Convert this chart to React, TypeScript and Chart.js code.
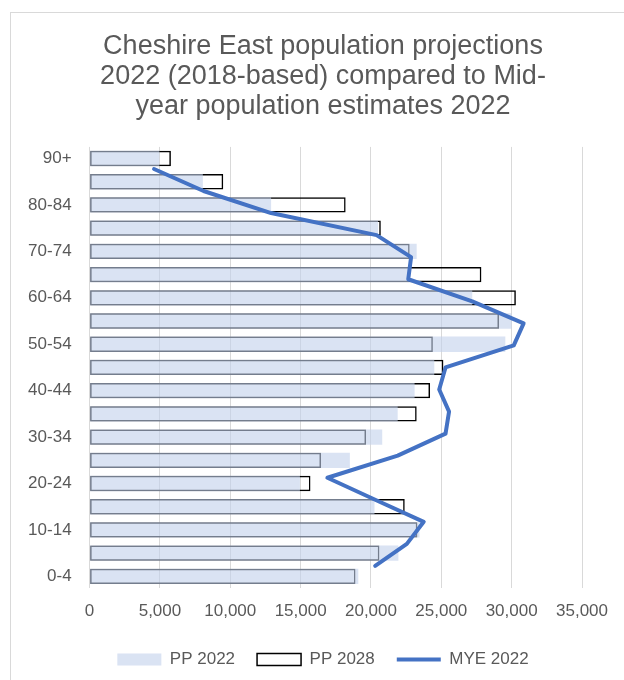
import React, { useEffect, useRef } from 'react';
import { Chart, registerables } from 'chart.js';

Chart.register(...registerables);

const categories = ['0-4', '5-9', '10-14', '15-19', '20-24', '25-29', '30-34', '35-39', '40-44', '45-49', '50-54', '55-59', '60-64', '65-69', '70-74', '75-79', '80-84', '85-89', '90+'];
const pp2022 = [19100, 21950, 23450, 20250, 14950, 18500, 20800, 21900, 23100, 24500, 29550, 30000, 27200, 22700, 23250, 20500, 12900, 8050, 4960];
const pp2028 = [18900, 20600, 23300, 22400, 15700, 16450, 19650, 23250, 24200, 25150, 24400, 29100, 30300, 27850, 22750, 20700, 18200, 9500, 5780];
const mye2022 = [20300, 22550, 23750, 20300, 16900, 21900, 25300, 25550, 24850, 25300, 30150, 30850, 27200, 22650, 22850, 20400, 12900, 8100, 4580];
const xTickValues = [0, 5000, 10000, 15000, 20000, 25000, 30000, 35000];
const titleLines = ['Cheshire East population projections', '2022 (2018-based) compared to Mid-', 'year population estimates 2022'];

const FONT = '"Liberation Sans", Arial, sans-serif';
const TEXT = '#595959';

export default function App() {
  const ref = useRef<HTMLCanvasElement>(null);

  useEffect(() => {
    const chart = new Chart(ref.current as HTMLCanvasElement, {
      type: 'bar',
      data: {
        labels: categories,
        datasets: [
          {
            label: 'PP 2022',
            data: pp2022,
            backgroundColor: 'rgba(193,208,235,0.6)',
            borderWidth: 0,
            grouped: false,
            order: 2,
            xAxisID: 'x',
            yAxisID: 'y',
            barPercentage: 0.66,
            categoryPercentage: 1,
            pointStyle: 'rect',
          } as any,
          {
            label: 'PP 2028',
            data: pp2028,
            backgroundColor: 'rgba(255,255,255,0)',
            borderColor: '#000000',
            borderWidth: 1.5,
            borderSkipped: false,
            grouped: false,
            order: 3,
            xAxisID: 'x',
            yAxisID: 'y',
            barPercentage: 0.66,
            categoryPercentage: 1,
            pointStyle: 'rect',
          } as any,
          {
            type: 'line',
            label: 'MYE 2022',
            data: mye2022.map((v, i) => ({ x: v, y: i + 1 })),
            indexAxis: 'x',
            xAxisID: 'x',
            yAxisID: 'y2',
            borderColor: '#4472C4',
            backgroundColor: '#4472C4',
            borderWidth: 4,
            pointRadius: 0,
            pointHoverRadius: 0,
            pointStyle: 'line',
            pointBorderColor: '#4472C4',
            pointBorderWidth: 4,
            fill: false,
            tension: 0,
            order: 1,
            borderJoinStyle: 'round',
            borderCapStyle: 'round',
          } as any,
        ],
      },
      options: {
        indexAxis: 'y',
        animation: false,
        responsive: false,
        layout: { padding: { left: 0, right: 0, top: 0, bottom: 15 } },
        scales: {
          x: {
            type: 'linear',
            position: 'bottom',
            min: 0,
            max: 35000,
            afterBuildTicks: (scale: any) => {
              scale.ticks = xTickValues.map((v) => ({ value: v }));
            },
            afterFit: (scale: any) => {
              scale.height = 41;
            },
            ticks: {
              color: TEXT,
              font: { family: FONT, size: 17 },
              padding: 13,
              callback: (v: any) => Number(v).toLocaleString('en-US'),
            },
            grid: { color: '#d9d9d9', lineWidth: 1, drawTicks: false },
            border: { display: false },
          },
          y: {
            type: 'category',
            position: 'left',
            reverse: true,
            afterFit: (scale: any) => {
              scale.width = 78.6;
            },
            ticks: {
              color: TEXT,
              font: { family: FONT, size: 17 },
              padding: 18,
              autoSkip: false,
              callback: (_v: any, i: number) => (i % 2 === 0 ? categories[i] : ''),
            },
            grid: { display: false, drawTicks: false },
            border: { display: false },
          },
          y2: {
            type: 'linear',
            axis: 'y',
            position: 'right',
            display: true,
            offset: false,
            min: 0,
            max: 20,
            afterFit: (scale: any) => {
              scale.width = 53;
            },
            ticks: { display: false },
            grid: { display: false, drawTicks: false, offset: false },
            border: { display: false },
          } as any,
        },
        plugins: {
          title: {
            display: true,
            text: titleLines,
            color: TEXT,
            font: { family: FONT, size: 27, weight: 'normal', lineHeight: 1.11 },
            padding: { top: 19, bottom: 25 },
          },
          legend: {
            position: 'bottom',
            labels: {
              color: TEXT,
              font: { family: FONT, size: 17 },
              usePointStyle: true,
              pointStyleWidth: 44,
              boxHeight: 12,
              padding: 22,
              sort: (a: any, b: any) => a.datasetIndex - b.datasetIndex,
            },
          },
          tooltip: { enabled: false },
        },
      } as any,
    });
    return () => chart.destroy();
  }, []);

  return (
    <div style={{ position: 'fixed', left: 0, top: 0, width: 624, height: 680, overflow: 'hidden', background: '#fff' }}>
      <div
        style={{
          position: 'absolute',
          left: 10,
          top: 12,
          width: 640,
          height: 700,
          border: '1px solid #d9d9d9',
          background: '#fff',
        }}
      >
        <canvas ref={ref} width={624} height={680} style={{ display: 'block' }} />
      </div>
    </div>
  );
}
